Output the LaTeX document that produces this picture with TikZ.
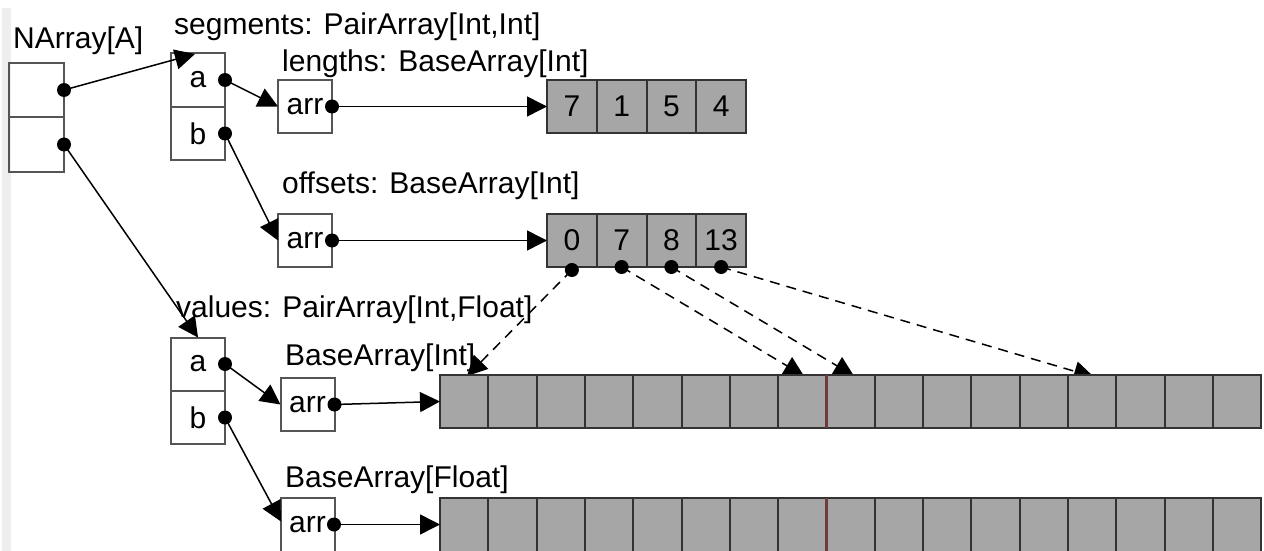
\documentclass[tikz,border=0pt]{standalone}
\usepackage{fontspec}
\setmainfont{Liberation Sans}
\usetikzlibrary{arrows.meta}
\definecolor{boxc}{HTML}{555555}
\definecolor{cellc}{HTML}{333333}
\definecolor{cellfill}{HTML}{A6A6A6}
\definecolor{stripc}{HTML}{EEEEEE}
\definecolor{redline}{HTML}{6E3C3C}
\begin{document}
\begin{tikzpicture}[x=1pt,y=-1pt,
  font=\fontsize{30}{36}\selectfont,
  box/.style={draw=boxc,line width=2pt,minimum width=54pt,minimum height=53pt,inner sep=0pt,outer sep=0pt},
  cell/.style={draw=cellc,fill=cellfill,line width=2pt,minimum width=#1,minimum height=53pt,inner sep=0pt,outer sep=0pt},
  lbl/.style={anchor=base west,inner sep=0pt},
  ptr/.style={line width=1.5pt,-{Triangle[length=20pt,width=20pt]}},
  idx/.style={ptr,dash pattern=on 10pt off 7pt},
  dotc/.style={fill=black}]
\useasboundingbox (0,0) rectangle (1264,551);
\clip (0,0) rectangle (1264,551);
\fill[stripc] (2,8) rectangle (11,551);
% boxes
\node[box,minimum width=55pt,minimum height=54pt] (na1) at (36.5,90) {};
\node[box,minimum width=55pt,minimum height=55pt] (na2) at (36.5,144.5) {};
\node[box,minimum height=54pt] (segA) at (198,80) {a};
\node[box] (segB) at (198,133.5) {b};
\node[box] (lenArr) at (305,106.5) {arr};
\node[box] (offArr) at (305,240.5) {arr};
\foreach \v [count=\i from 0] in {7,1,5,4}
  \node[cell=49.75pt] (len\i) at (571.875+49.75*\i,106.5) {\v};
\foreach \v [count=\i from 0] in {0,7,8,13}
  \node[cell=49.75pt] (off\i) at (571.875+49.75*\i,240.5) {\v};
\node[box] (valA) at (198,364) {a};
\node[box] (valB) at (198,417.5) {b};
\node[box] (aArr) at (307.5,404.5) {arr};
\node[box,minimum height=57pt] (fArr) at (307.5,526.5) {};
\node[inner sep=0pt] (fArrTxt) at (307.5,524.5) {arr};
% dashed index arrows
\coordinate (t0) at (467,376);
\coordinate (t7) at (804,376);
\coordinate (t8) at (854,376);
\coordinate (t13) at (1094,377);
\coordinate (d0) at ([yshift=-3pt]off0.south);
\draw[idx] (d0) -- (t0);
\draw[idx] (off1.south) -- (t7);
\draw[idx] (off2.south) -- (t8);
\draw[idx] (off3.south) -- (t13);
\fill[dotc] (d0) circle[radius=7pt];
% value arrays
\foreach \i in {0,...,16} {
  \node[cell=48.3pt] (bi\i) at (464.15+48.3*\i,401.5) {};
  \node[cell=48.3pt,minimum height=57pt] (bf\i) at (464.15+48.3*\i,526.5) {};
}
\draw[redline,line width=2.5pt] (bi7.north east) -- (bi7.south east);
\draw[redline,line width=2.5pt] (bf7.north east) -- (bf7.south east);
% pointers
\coordinate (segTip) at (195,54);
\coordinate (fTip) at (281,521.5);
\coordinate (fOut) at (334,524.5);
\coordinate (bfIn) at (440,524.5);
\draw[ptr] (na1.east) -- (segTip);
\draw[ptr] (na2.east) -- (valA.north);
\draw[ptr] (segA.east) -- (lenArr.west);
\draw[ptr] (segB.east) -- (offArr.west);
\draw[ptr] (lenArr.east) -- (len0.west);
\draw[ptr] (offArr.east) -- (off0.west);
\draw[ptr] (valA.east) -- (aArr.west);
\draw[ptr] (valB.east) -- (fTip);
\draw[ptr] (aArr.east) -- (bi0.west);
\draw[ptr] (fOut) -- (bfIn);
% dots
\foreach \c in {na1.east,na2.east,segA.east,segB.east,lenArr.east,offArr.east,valA.east,valB.east,aArr.east,fOut,off1.south,off2.south,off3.south}
  \fill[dotc] (\c) circle[radius=7pt];
% labels
\node[lbl] (lNA) at (13,49) {NArray[A]};
\node[lbl] (lSeg) at (174,35) {segments: PairArray[Int,Int]};
\node[lbl] (lLen) at (282,72) {lengths: BaseArray[Int]};
\node[lbl] (lOff) at (282,193) {offsets: BaseArray[Int]};
\node[lbl] (lVal) at (176,317) {values: PairArray[Int,Float]};
\node[lbl] (lBI) at (285,365) {BaseArray[Int]};
\node[lbl] (lBF) at (285,487) {BaseArray[Float]};
\end{tikzpicture}
\end{document}
